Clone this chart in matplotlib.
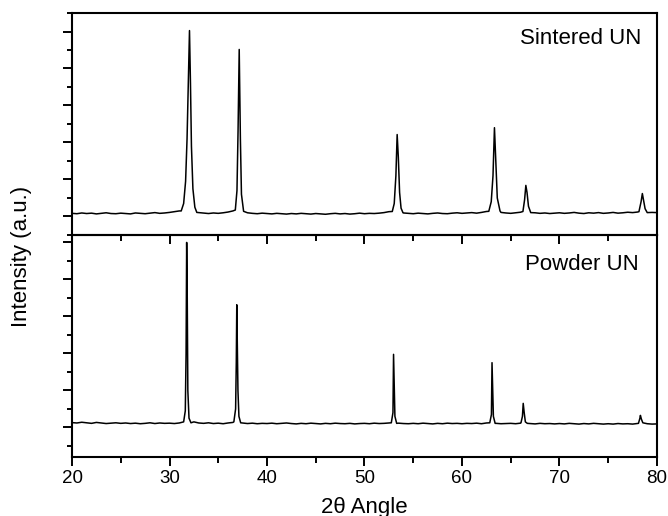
import matplotlib
matplotlib.use("Agg")
import matplotlib.pyplot as plt
from matplotlib.ticker import MultipleLocator, NullFormatter
import numpy as np

plt.rcParams['font.family'] = ['Liberation Sans', 'DejaVu Sans']

# baseline readings every 0.5 deg from 20 to 80
base_x = np.arange(20.0, 80.01, 0.5)
sintered_base = [
    0.17, 0.15, 0.19, 0.16, 0.18, 0.14, 0.17, 0.20, 0.16, 0.15,
    0.18, 0.16, 0.14, 0.19, 0.17, 0.15, 0.18, 0.21, 0.17, 0.19,
    0.22, 0.26, 0.30, 0.30, 0.30, 0.30, 0.21, 0.18, 0.16, 0.19,
    0.17, 0.20, 0.24, 0.30, 0.30, 0.30, 0.20, 0.17, 0.15, 0.18,
    0.16, 0.14, 0.17, 0.15, 0.13, 0.16, 0.14, 0.17, 0.15, 0.13,
    0.16, 0.14, 0.12, 0.15, 0.17, 0.14, 0.16, 0.13, 0.15, 0.18,
    0.15, 0.17, 0.16, 0.18, 0.21, 0.26, 0.30, 0.30, 0.19, 0.17,
    0.15, 0.18, 0.16, 0.14, 0.17, 0.19, 0.16, 0.15, 0.18, 0.20,
    0.17, 0.19, 0.21, 0.18, 0.22, 0.27, 0.30, 0.30, 0.22, 0.19,
    0.17, 0.20, 0.23, 0.30, 0.30, 0.20, 0.17, 0.19, 0.16, 0.18,
    0.20, 0.17, 0.19, 0.22, 0.18, 0.16, 0.20, 0.18, 0.21, 0.17,
    0.19, 0.22, 0.18, 0.20, 0.23, 0.21, 0.24, 0.30, 0.20, 0.22,
    0.21,
]
powder_base = [
    0.26, 0.24, 0.28, 0.25, 0.22, 0.27, 0.24, 0.21, 0.23, 0.25,
    0.22, 0.24, 0.21, 0.23, 0.20, 0.22, 0.25, 0.21, 0.24, 0.22,
    0.23, 0.21, 0.24, 0.26, 0.30, 0.30, 0.24, 0.22, 0.25, 0.21,
    0.23, 0.20, 0.24, 0.27, 0.30, 0.24, 0.21, 0.23, 0.20, 0.22,
    0.21, 0.23, 0.20, 0.22, 0.24, 0.21, 0.19, 0.22, 0.20, 0.23,
    0.21, 0.19, 0.22, 0.20, 0.23, 0.21, 0.20, 0.22, 0.19, 0.21,
    0.22, 0.20, 0.23, 0.21, 0.22, 0.24, 0.30, 0.23, 0.21, 0.20,
    0.22, 0.20, 0.23, 0.21, 0.19, 0.22, 0.20, 0.23, 0.21, 0.22,
    0.20, 0.22, 0.21, 0.23, 0.20, 0.24, 0.30, 0.22, 0.20, 0.21,
    0.22, 0.20, 0.23, 0.30, 0.21, 0.19, 0.22, 0.20, 0.21, 0.19,
    0.21, 0.19, 0.22, 0.20, 0.18, 0.21, 0.19, 0.22, 0.20, 0.18,
    0.20, 0.18, 0.21, 0.19, 0.20, 0.18, 0.21, 0.19, 0.20, 0.18,
    0.19,
]

# peak profiles (2theta, intensity)
sintered_peaks = [
    ([31.2, 31.45, 31.65, 31.8, 31.95, 32.05, 32.15, 32.25, 32.4, 32.6, 32.8],
     [0.3, 0.7, 1.9, 4.2, 7.8, 10.05, 7.2, 3.8, 1.5, 0.5, 0.22]),
    ([36.75, 36.92, 37.03, 37.15, 37.27, 37.38, 37.6],
     [0.35, 1.4, 4.6, 9.03, 4.2, 1.2, 0.28]),
    ([52.85, 53.05, 53.22, 53.35, 53.47, 53.6, 53.75, 53.95],
     [0.27, 0.7, 2.2, 4.43, 3.2, 1.3, 0.45, 0.2]),
    ([62.75, 63.0, 63.18, 63.33, 63.47, 63.62, 63.9],
     [0.28, 0.8, 2.2, 4.8, 3.0, 1.0, 0.3]),
    ([66.25, 66.42, 66.55, 66.67, 66.82, 67.05],
     [0.27, 0.9, 1.68, 1.3, 0.55, 0.21]),
    ([78.15, 78.37, 78.5, 78.62, 78.78, 79.0],
     [0.26, 0.8, 1.24, 0.9, 0.42, 0.21]),
]
powder_peaks = [
    ([31.45, 31.62, 31.7, 31.76, 31.82, 31.88, 32.0, 32.2],
     [0.3, 0.9, 4.0, 10.0, 7.0, 2.0, 0.5, 0.25]),
    ([36.6, 36.78, 36.85, 36.9, 36.95, 37.02, 37.12, 37.3],
     [0.3, 1.0, 3.5, 6.63, 4.5, 2.0, 0.6, 0.25]),
    ([52.75, 52.92, 52.98, 53.05, 53.12, 53.3],
     [0.25, 0.8, 3.95, 2.2, 0.6, 0.22]),
    ([62.85, 63.02, 63.08, 63.15, 63.22, 63.4],
     [0.25, 0.7, 3.5, 2.0, 0.6, 0.22]),
    ([66.05, 66.2, 66.28, 66.38, 66.5, 66.7],
     [0.25, 0.6, 1.3, 0.8, 0.3, 0.22]),
    ([78.1, 78.25, 78.3, 78.4, 78.55],
     [0.22, 0.5, 0.65, 0.45, 0.25]),
]


def build_pattern(base_y, peaks):
    keep = np.ones(len(base_x), dtype=bool)
    for px, py in peaks:
        keep &= ~((base_x >= px[0]) & (base_x <= px[-1]))
    xs = [x for x, k in zip(base_x, keep) if k]
    ys = [y for y, k in zip(base_y, keep) if k]
    for px, py in peaks:
        xs += px
        ys += py
    order = np.argsort(xs)
    return np.array(xs)[order], np.array(ys)[order]


fig = plt.figure(figsize=(6.68, 5.16), dpi=100)
ax_bot = fig.add_axes([0.1078, 0.1143, 0.8757, 0.4302])
ax_top = fig.add_axes([0.1078, 0.5446, 0.8757, 0.4302])
ax_top.set_zorder(2)
ax_top.patch.set_alpha(0)

panels = [
    (ax_top, sintered_base, sintered_peaks, (-1.0, 11.0), 'Sintered UN', 0.973, 0.860),
    (ax_bot, powder_base, powder_peaks, (-1.6, 10.4), 'Powder UN', 0.969, 0.842),
]
for ax, base_y, peaks, ylim, name, tx, ty in panels:
    x, y = build_pattern(base_y, peaks)
    ax.plot(x, y, color='black', lw=1.1)
    ax.set_xlim(20, 80)
    ax.set_ylim(*ylim)
    ax.yaxis.set_major_locator(MultipleLocator(2))
    ax.yaxis.set_minor_locator(MultipleLocator(1))
    ax.yaxis.set_major_formatter(NullFormatter())
    ax.xaxis.set_major_locator(MultipleLocator(10))
    ax.xaxis.set_minor_locator(MultipleLocator(5))
    ax.tick_params(axis='y', which='both', direction='out', width=1.4,
                   left=True, right=False, labelleft=False)
    ax.tick_params(axis='y', which='major', length=6.5)
    ax.tick_params(axis='y', which='minor', length=3.5)
    ax.tick_params(axis='x', which='both', direction='out', width=1.4,
                   top=False, bottom=True)
    ax.tick_params(axis='x', which='major', length=6.5)
    ax.tick_params(axis='x', which='minor', length=4.0)
    for s in ax.spines.values():
        s.set_linewidth(1.5)
    ax.text(tx, ty, name, transform=ax.transAxes,
            ha='right', va='baseline', fontsize=16)

ax_top.tick_params(axis='x', labelbottom=False)
ax_bot.tick_params(axis='x', labelsize=13.5, pad=3)

fig.text(22 / 668, 1 - 256 / 516, 'Intensity (a.u.)', rotation=90,
         ha='center', va='center', fontsize=16)
fig.text(364 / 668, 1 - 507 / 516, '2θ Angle', ha='center', va='center',
         fontsize=16)

fig.savefig('out.png', dpi=100)
